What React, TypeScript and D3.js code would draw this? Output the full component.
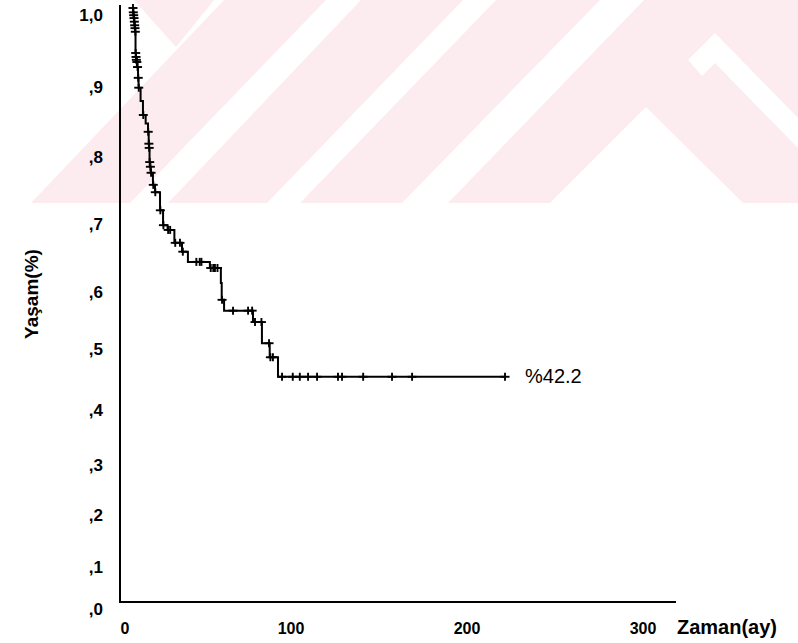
import React from "react";
import * as d3 from "d3";

// Kaplan–Meier estimate
const eventTimes = [6.6, 6.8, 7.0, 7.2, 7.4, 7.6, 7.8, 8.0, 8.2, 8.4, 8.6, 9.0, 9.5, 9.8, 11.0, 12.4, 14.0, 15.4, 15.8, 16.0, 16.3, 16.6, 17, 18.3, 19.5, 22.5, 24.3, 27, 31, 35.5, 39, 52, 58.5, 59, 60.4, 77.5, 82.8, 87.4, 92.3];
const eventSurv = [0.994, 0.99, 0.986, 0.981, 0.976, 0.972, 0.967, 0.9375, 0.932, 0.928, 0.925, 0.918, 0.903, 0.889, 0.87, 0.85, 0.838, 0.826, 0.809, 0.803, 0.782, 0.775, 0.766, 0.748, 0.737, 0.71, 0.688, 0.681, 0.662, 0.649, 0.634, 0.625, 0.603, 0.574, 0.555, 0.535, 0.498, 0.475, 0.443];
const censorTimes = [6.5, 6.7, 6.9, 7.1, 7.3, 7.5, 7.7, 7.9, 8.1, 8.3, 8.5, 8.8, 9.2, 9.6, 9.9, 12.6, 15.5, 15.9, 16.1, 16.4, 16.8, 17.2, 18.5, 19.7, 22.7, 24.5, 27.3, 28.5, 31.5, 34.3, 36, 44, 46, 47, 52.5, 54, 55, 56.5, 59.2, 65.7, 74.6, 77, 78.7, 82.5, 87, 87.8, 89.3, 94.7, 101, 105, 109.7, 114.8, 126.7, 129, 141, 157.4, 168.8, 221.6];

const yTickValues = [0, 0.1, 0.2, 0.3, 0.4, 0.5, 0.6, 0.7, 0.8, 0.9, 1.0];
const yTickLabels = [",0", ",1", ",2", ",3", ",4", ",5", ",6", ",7", ",8", ",9", "1,0"];
const xTickValues = [0, 100, 200, 300];
const xTickLabels = ["0", "100", "200", "300"];
const yTitle = "Yaşam(%)";
const xTitle = "Zaman(ay)";
const annotation = "%42.2";

const FONT = "Arial, 'Liberation Sans', Helvetica, sans-serif";

function survivalAt(t: number): number {
  let s = 1;
  for (let i = 0; i < eventTimes.length; i++) {
    if (eventTimes[i] <= t) s = eventSurv[i];
  }
  return s;
}

export default function App() {
  const W = 798;
  const H = 643;
  // scanned axes are slightly non-uniform: polylinear scales calibrated to the tick labels
  const x = d3.scaleLinear().domain(xTickValues).range([122, 291, 467, 643]);
  const y = d3
    .scaleLinear()
    .domain(yTickValues)
    .range([602, 560, 508, 458, 403, 342, 285, 217, 150, 80, 8]);

  const pts: [number, number][] = [[censorTimes[0], 1]];
  eventTimes.forEach((t, i) => pts.push([t, eventSurv[i]]));
  pts.push([censorTimes[censorTimes.length - 1], eventSurv[eventSurv.length - 1]]);

  const line = d3
    .line<[number, number]>()
    .x((d) => x(d[0]))
    .y((d) => y(d[1]))
    .curve(d3.curveStepAfter);

  const pink = "#fdecef";
  const wm = [
    "134,0 214,0 176,47",
    "224,0 326,0 130,203 31,203",
    "361,0 463,0 267,203 168,203",
    "496,0 600,0 402,203 300,203",
    "644,0 798,0 798,203 743,203 646,107 550,203 448,203",
  ];

  return (
    <div style={{ position: "absolute", left: 0, top: 0, width: W, height: H, background: "#fff" }}>
      <svg width={W} height={H} style={{ display: "block" }}>
        <rect x={0} y={0} width={W} height={H} fill="#fff" />
        <g>
          {wm.map((p, i) => (
            <polygon key={i} points={p} fill={pink} />
          ))}
          <polygon points="688,60 715,33 798,118 798,148 715,63 702,76" fill="#fff" />
        </g>

        {/* axes */}
        <line x1={120} y1={5} x2={120} y2={602} stroke="#000" strokeWidth={2} />
        <line x1={119} y1={602} x2={676} y2={602} stroke="#000" strokeWidth={2} />

        {yTickValues.map((v, i) => (
          <text
            key={"y" + i}
            x={103}
            y={y(v) + 7}
            textAnchor="end"
            dominantBaseline="central"
            fontFamily={FONT}
            fontWeight="bold"
            fontSize={17}
            fill="#000"
          >
            {yTickLabels[i]}
          </text>
        ))}
        {xTickValues.map((v, i) => (
          <text
            key={"x" + i}
            x={i === 0 ? 125 : x(v)}
            y={628}
            textAnchor="middle"
            dominantBaseline="central"
            fontFamily={FONT}
            fontWeight="bold"
            fontSize={16}
            fill="#000"
          >
            {xTickLabels[i]}
          </text>
        ))}

        <text
          transform="translate(31,294) rotate(-90)"
          textAnchor="middle"
          dominantBaseline="central"
          fontFamily={FONT}
          fontWeight="bold"
          fontSize={19}
          fill="#000"
        >
          {yTitle}
        </text>
        <text
          x={677}
          y={627}
          dominantBaseline="central"
          fontFamily={FONT}
          fontWeight="bold"
          fontSize={20}
          fill="#000"
        >
          {xTitle}
        </text>

        {/* KM curve */}
        <path d={line(pts) || ""} fill="none" stroke="#000" strokeWidth={2} />
        {censorTimes.map((t, i) => {
          const cx = x(t);
          const cy = y(survivalAt(t));
          return (
            <g key={"c" + i} stroke="#000" strokeWidth={1.9}>
              <line x1={cx - 4.5} y1={cy} x2={cx + 4.5} y2={cy} />
              <line x1={cx} y1={cy - 4} x2={cx} y2={cy + 4} />
            </g>
          );
        })}

        <text
          x={525}
          y={376}
          dominantBaseline="central"
          fontFamily={FONT}
          fontSize={20}
          fill="#000"
        >
          {annotation}
        </text>
      </svg>
    </div>
  );
}
